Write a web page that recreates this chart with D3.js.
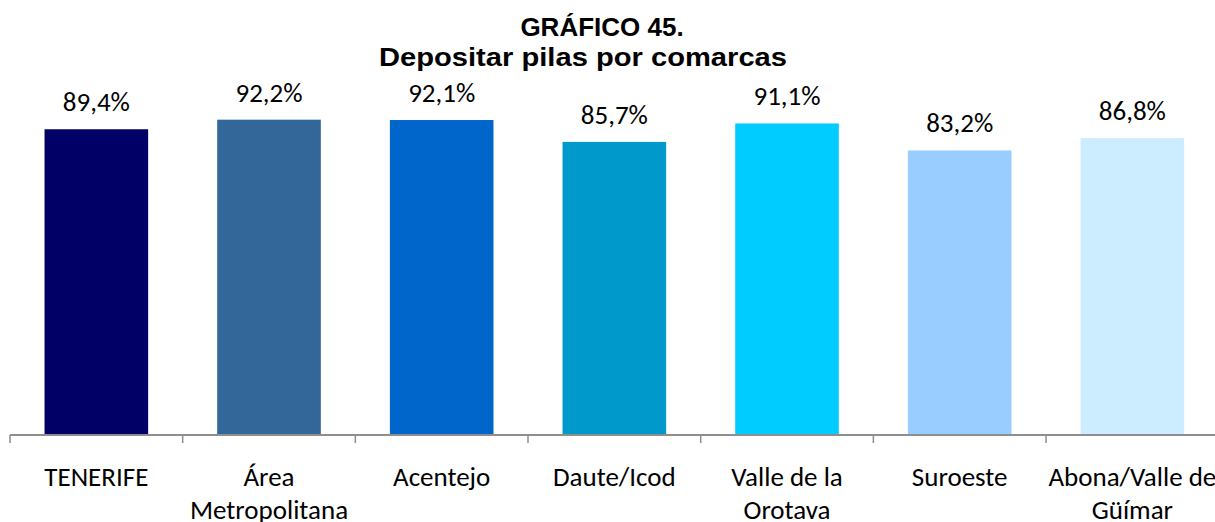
<!DOCTYPE html>
<html>
<head>
<meta charset="utf-8">
<script src="https://cdn.jsdelivr.net/npm/d3@7"></script>
<style>
  html, body { margin: 0; padding: 0; background: #fff; }
  svg { display: block; }
</style>
</head>
<body>
<svg id="chart" width="1215" height="522"></svg>
<script>
// Comarcas de Tenerife y porcentaje que deposita pilas
const categories = ["TENERIFE", "Área Metropolitana", "Acentejo", "Daute/Icod",
                    "Valle de la Orotava", "Suroeste", "Abona/Valle de Güímar"];
const values = [89.4, 92.2, 92.1, 85.7, 91.1, 83.2, 86.8];
const barColors = ["#000066", "#336699", "#0066cc", "#0099cc", "#00ccff", "#99ccff", "#ccecff"];
const titleLines = ["GRÁFICO 45.", "Depositar pilas por comarcas"];

const svg = d3.select("#chart");
const labelFont = "Carlito, Calibri, Lato, 'Open Sans', sans-serif";

const x = d3.scaleBand()
  .domain(categories)
  .range([10, 1218.7])
  .paddingInner(0.4)
  .paddingOuter(0.2);

const y = d3.scaleLinear().domain([0, 100]).range([435, 93]);

const locale = d3.formatLocale({ decimal: ",", thousands: ".", grouping: [3], currency: ["", "€"] });
const fmt = v => locale.format(".1f")(v) + "%";

// Título (la segunda línea va ensanchada)
const title = svg.append("g").selectAll("text")
  .data(titleLines)
  .join("text")
  .attr("x", (d, i) => i === 0 ? 602 : 583)
  .attr("y", (d, i) => i === 0 ? 36 : 66)
  .attr("text-anchor", "middle")
  .style("font-family", "'Liberation Sans', Arial, sans-serif")
  .style("font-weight", "bold")
  .style("font-size", "26px")
  .attr("fill", "#000")
  .text(d => d);
title.filter((d, i) => i === 1)
  .attr("textLength", 408)
  .attr("lengthAdjust", "spacingAndGlyphs");

// Barras
svg.append("g").selectAll("rect")
  .data(categories)
  .join("rect")
  .attr("x", d => x(d))
  .attr("width", x.bandwidth())
  .attr("y", (d, i) => y(values[i]))
  .attr("height", (d, i) => y(0) - y(values[i]))
  .attr("fill", (d, i) => barColors[i]);

// Etiquetas de valor
svg.append("g").selectAll("text")
  .data(categories)
  .join("text")
  .attr("x", d => x(d) + x.bandwidth() / 2)
  .attr("y", (d, i) => y(values[i]) - 18)
  .attr("text-anchor", "middle")
  .style("font-family", labelFont)
  .style("font-size", "27px")
  .attr("fill", "#000")
  .text((d, i) => fmt(values[i]));

// Eje horizontal con marcas entre categorías
const axis = svg.append("g");
const step = x.step();
const edges = categories.map(d => x(d) - step * x.paddingInner() / 2);
edges.push(x(categories[categories.length - 1]) + x.bandwidth() + step * x.paddingInner() / 2);

axis.append("line")
  .attr("x1", edges[0]).attr("x2", edges[edges.length - 1])
  .attr("y1", y(0)).attr("y2", y(0))
  .attr("stroke", "#8e8e8e").attr("stroke-width", 2);

axis.selectAll("line.tick")
  .data(edges)
  .join("line")
  .attr("class", "tick")
  .attr("x1", d => d).attr("x2", d => d)
  .attr("y1", y(0)).attr("y2", y(0) + 8)
  .attr("stroke", "#8e8e8e").attr("stroke-width", 1.5);

// Nombres de categoría, partidos en líneas según el ancho de cada columna
const catText = axis.selectAll("text.cat")
  .data(categories)
  .join("text")
  .attr("class", "cat")
  .attr("x", d => x(d) + x.bandwidth() / 2)
  .attr("y", 485.5)
  .attr("text-anchor", "middle")
  .style("font-family", labelFont)
  .style("font-size", "27px")
  .attr("fill", "#000");

catText.each(function(d) {
  const t = d3.select(this);
  const cx = x(d) + x.bandwidth() / 2;
  const words = d.split(" ");
  let line = [];
  let tspan = t.append("tspan").attr("x", cx).attr("dy", 0);
  words.forEach(w => {
    line.push(w);
    tspan.text(line.join(" "));
    if (tspan.node().getComputedTextLength() > step && line.length > 1) {
      line.pop();
      tspan.text(line.join(" "));
      line = [w];
      tspan = t.append("tspan").attr("x", cx).attr("dy", 33).text(w);
    }
  });
});
</script>
</body>
</html>
